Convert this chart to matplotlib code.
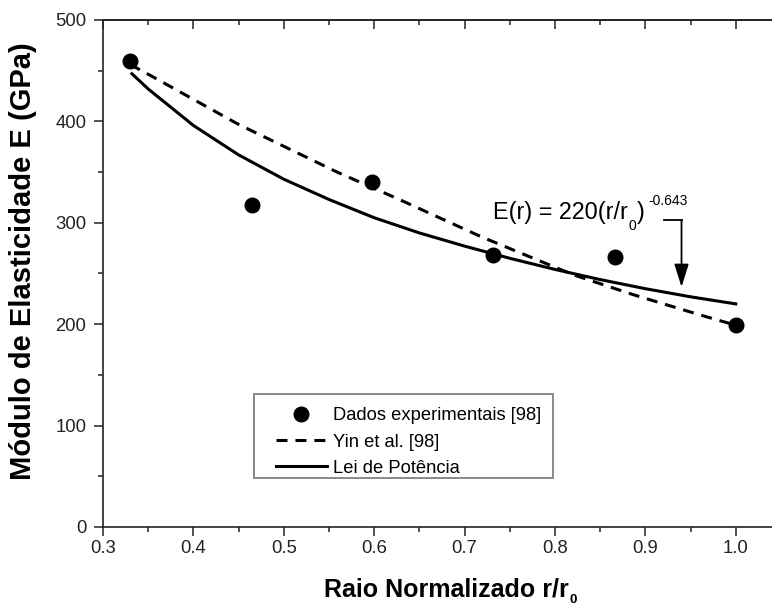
import numpy as np
import matplotlib
matplotlib.use("Agg")
import matplotlib.pyplot as plt
from matplotlib.patches import Rectangle
from matplotlib.ticker import MultipleLocator, FormatStrFormatter

plt.rcParams['font.family'] = ['Liberation Sans', 'DejaVu Sans']

# experimental points
r_exp = [0.330, 0.465, 0.598, 0.732, 0.866, 1.000]
E_exp = [460, 318, 340, 268, 266, 199]

# Yin et al. [98] curve
r_yin = [0.330, 0.345, 0.450, 0.559, 0.629, 0.719, 0.821, 0.887, 0.961, 1.000]
E_yin = [456, 449, 397, 350, 322.5, 286, 248.5, 229, 209, 199]

# power law curve
r_pow = [0.332, 0.35, 0.40, 0.45, 0.50, 0.55, 0.60, 0.65, 0.70, 0.75,
         0.80, 0.85, 0.90, 0.95, 1.00]
E_pow = [447, 432, 396, 367, 343, 323, 305, 290, 277, 265,
         254, 244, 235, 227, 220]

fig = plt.figure(figsize=(7.72, 6.06), dpi=100)
ax = fig.add_axes([0.1334, 0.1304, 0.8782, 0.8366])

ax.plot(r_exp, E_exp, 'o', color='black', markersize=10.5, label='Dados experimentais [98]', zorder=4)
ax.plot(r_yin, E_yin, color='black', lw=2.2, linestyle=(0, (3.6, 2.6)), label='Yin et al. [98]')
ax.plot(r_pow, E_pow, color='black', lw=2.2, label='Lei de Potência')

ax.set_xlim(0.3, 1.05)
ax.set_ylim(0, 500)
ax.xaxis.set_major_locator(MultipleLocator(0.1))
ax.xaxis.set_minor_locator(MultipleLocator(0.05))
ax.xaxis.set_major_formatter(FormatStrFormatter('%.1f'))
ax.yaxis.set_major_locator(MultipleLocator(100))
ax.yaxis.set_minor_locator(MultipleLocator(50))

for s in ax.spines.values():
    s.set_linewidth(1.2)
    s.set_color('#222222')

ax.tick_params(which='both', direction='out', width=1.1, labelsize=13.3, colors='#222222',
               top=False, right=False)
ax.tick_params(which='major', length=6.5)
ax.tick_params(which='minor', length=3.6)
ax.tick_params(axis='x', pad=3.2)
ax.tick_params(axis='y', pad=5.5)

# inward ticks on top and right
secx = ax.secondary_xaxis('top')
secx.xaxis.set_major_locator(MultipleLocator(0.1))
secx.xaxis.set_minor_locator(MultipleLocator(0.05))
secy = ax.secondary_yaxis('right')
secy.yaxis.set_major_locator(MultipleLocator(100))
secy.yaxis.set_minor_locator(MultipleLocator(50))
for sa in (secx, secy):
    sa.tick_params(which='both', direction='in', width=1.1, colors='#222222',
                   labeltop=False, labelright=False)
    sa.tick_params(which='major', length=6.5)
    sa.tick_params(which='minor', length=3.6)
    for s in sa.spines.values():
        s.set_linewidth(1.2)
        s.set_color('#222222')

ax.set_xlabel('Raio Normalizado r/r', fontsize=18, fontweight='bold')
ax.set_ylabel('Módulo de Elasticidade E (GPa)', fontsize=21, fontweight='bold')
ax.xaxis.set_label_coords(0.5066, -0.099)
ax.yaxis.set_label_coords(-0.097, 0.524)
ax.annotate('0', xy=(1, 0), xycoords=ax.xaxis.label, xytext=(0.5, -3.8),
            textcoords='offset points', fontsize=9.5, fontweight='bold',
            ha='left', va='bottom', annotation_clip=False)

# power law label: E(r) = 220(r/r0)^-0.643
y_base = 304
t1 = ax.text(0.732, y_base, 'E(r) = 220(r/r', fontsize=16.8, ha='left', va='baseline')
t2 = ax.annotate('0', xy=(1, y_base), xycoords=(t1, 'data'), xytext=(0, -7.9),
                 textcoords='offset points', fontsize=10, ha='left', va='baseline')
t3 = ax.annotate(')', xy=(1, y_base), xycoords=(t2, 'data'), xytext=(0.3, 0),
                 textcoords='offset points', fontsize=16.8, ha='left', va='baseline')
ax.annotate('-0.643', xy=(1, y_base), xycoords=(t3, 'data'), xytext=(3, 10),
            textcoords='offset points', fontsize=10, ha='left', va='baseline')

ax.plot([0.921, 0.94], [302.8, 302.8], color='black', lw=1.3)
ax.annotate('', xy=(0.94, 236.7), xytext=(0.94, 302.8),
            arrowprops=dict(arrowstyle='-|>,head_length=0.7,head_width=0.22', lw=1.3,
                            color='black', mutation_scale=20, shrinkA=0, shrinkB=0))

# legend frame drawn separately so the padding matches
ax.add_patch(Rectangle((0.2227, 0.0966), 0.441, 0.1657, transform=ax.transAxes,
                       facecolor='white', edgecolor='#808080', lw=1.3, zorder=4.5))
leg = ax.legend(loc='upper left', bbox_to_anchor=(0.2552, 0.2359), borderaxespad=0,
                fontsize=13.2, frameon=False, handlelength=2.78, handletextpad=0.33,
                labelspacing=0.5, borderpad=0, numpoints=1)
leg.set_zorder(5)

fig.savefig('out.png', dpi=100)
